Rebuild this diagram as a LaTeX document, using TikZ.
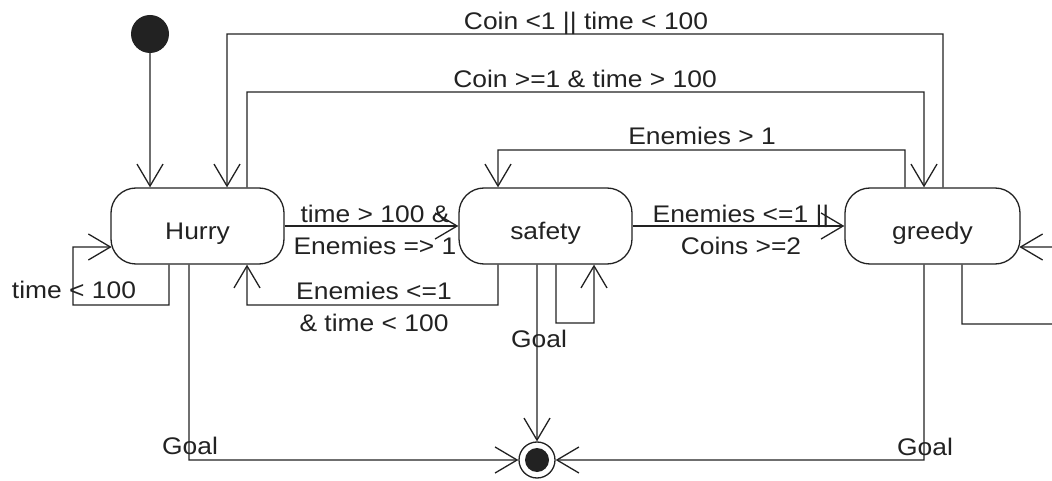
\documentclass[tikz,border=0pt]{standalone}
\usepackage{fontspec}
\setmainfont{Liberation Sans}[FakeStretch=1.1]
\usetikzlibrary{arrows.meta}
\definecolor{ink}{HTML}{222222}
\begin{document}
\begin{tikzpicture}[x=1bp,y=-1bp,
  every node/.style={font=\fontsize{24bp}{32bp}\selectfont, text=ink},
  state/.style={draw=ink, line width=1.3bp, rounded corners=25bp, minimum height=76bp, inner sep=0pt},
  tr/.style={draw=ink, line width=1.3bp, -{Straight Barb[length=22bp,width=26bp,line width=1.3bp]}},
  plain/.style={draw=ink, line width=1.3bp},
  lbl/.style={inner sep=0pt, anchor=base},
  lbl2/.style={inner sep=0pt, anchor=center, align=center}]
\useasboundingbox (0,0) rectangle (1052,481);
\fill[white] (0,0) rectangle (1052,481);

% states
\node[circle, fill=ink, minimum size=38bp, inner sep=0pt] (init) at (150,34) {};
\node[state, minimum width=173bp] (hurry) at (197.5,226) {};
\node[lbl] (hurryT) at (197.5,240) {Hurry};
\node[state, minimum width=173bp] (safety) at (545.5,226) {};
\node[lbl] (safetyT) at (545.5,240) {safety};
\node[state, minimum width=175bp] (greedy) at (932.5,226) {};
\node[lbl] (greedyT) at (932.5,240) {greedy};
\node[circle, draw=ink, line width=1.3bp, minimum size=36bp, inner sep=0pt,
  path picture={\fill[ink] (path picture bounding box.center) circle (12bp);}] (final) at (537,460) {};

% free ends at the right border
\coordinate (offA) at (1052,324);
\coordinate (offB) at (1052,247);

% initial
\draw[tr] (init.south) -- ([xshift=-47.5bp]hurry.north);

% greedy -> hurry (Coin <1 || time < 100)
\draw[tr] ([xshift=10.5bp]greedy.north) -- (943,34) -- (227,34) -- ([xshift=29.5bp]hurry.north);
\node[lbl] (l1) at (586,30) {Coin <1 || time < 100};

% hurry -> greedy (Coin >=1 & time > 100)
\draw[tr] ([xshift=49.5bp]hurry.north) -- (247,92) -- (924,92) -- ([xshift=-8.5bp]greedy.north);
\node[lbl] (l2) at (585,88) {Coin >=1 \& time > 100};

% greedy -> safety (Enemies > 1)
\draw[tr] ([xshift=-27.5bp]greedy.north) -- (905,150) -- (498,150) -- ([xshift=-47.5bp]safety.north);
\node[lbl] (l3) at (702,145) {Enemies > 1};

% hurry -> safety
\draw[tr] (hurry.east) -- (safety.west);
\node[lbl2] (l4) at (375,230) {time > 100 \&\\Enemies => 1};

% safety -> greedy
\draw[tr] (safety.east) -- (greedy.west);
\node[lbl2] (l5) at (741,230) {Enemies <=1 ||\\Coins >=2};

% safety -> hurry
\draw[tr] ([xshift=-47.5bp]safety.south) -- (498,305) -- (247,305) -- ([xshift=49.5bp]hurry.south);
\node[lbl2] (l6) at (374,307) {Enemies <=1\\\& time < 100};

% hurry self loop
\draw[tr] ([xshift=-28.5bp]hurry.south) -- (169,305) -- (73,305) -- (73,247) -- ([shift={(1.3bp,-21bp)}]hurry.west);
\node[lbl] (l7) at (74,299) {time < 100};

% safety self loop
\draw[tr] ([xshift=10.5bp]safety.south) -- (556,323) -- (594,323) -- ([xshift=48.5bp]safety.south);

% goal transitions
\draw[tr] ([xshift=-8.5bp]safety.south) -- (final.north);
\node[lbl] (g1) at (539,348) {Goal};
\draw[tr] ([xshift=-8.5bp]hurry.south) -- (189,460) -- (final.west);
\node[lbl] (g2) at (190,454) {Goal};
\draw[tr] ([xshift=-8.5bp]greedy.south) -- (924,460) -- (final.east);
\node[lbl] (g3) at (925,455) {Goal};

% greedy loop cut by border
\draw[plain] ([xshift=29.5bp]greedy.south) -- (962,324) -- (offA);
\draw[tr] (offB) -- ([shift={(-1.3bp,-21bp)}]greedy.east);
\end{tikzpicture}
\end{document}
